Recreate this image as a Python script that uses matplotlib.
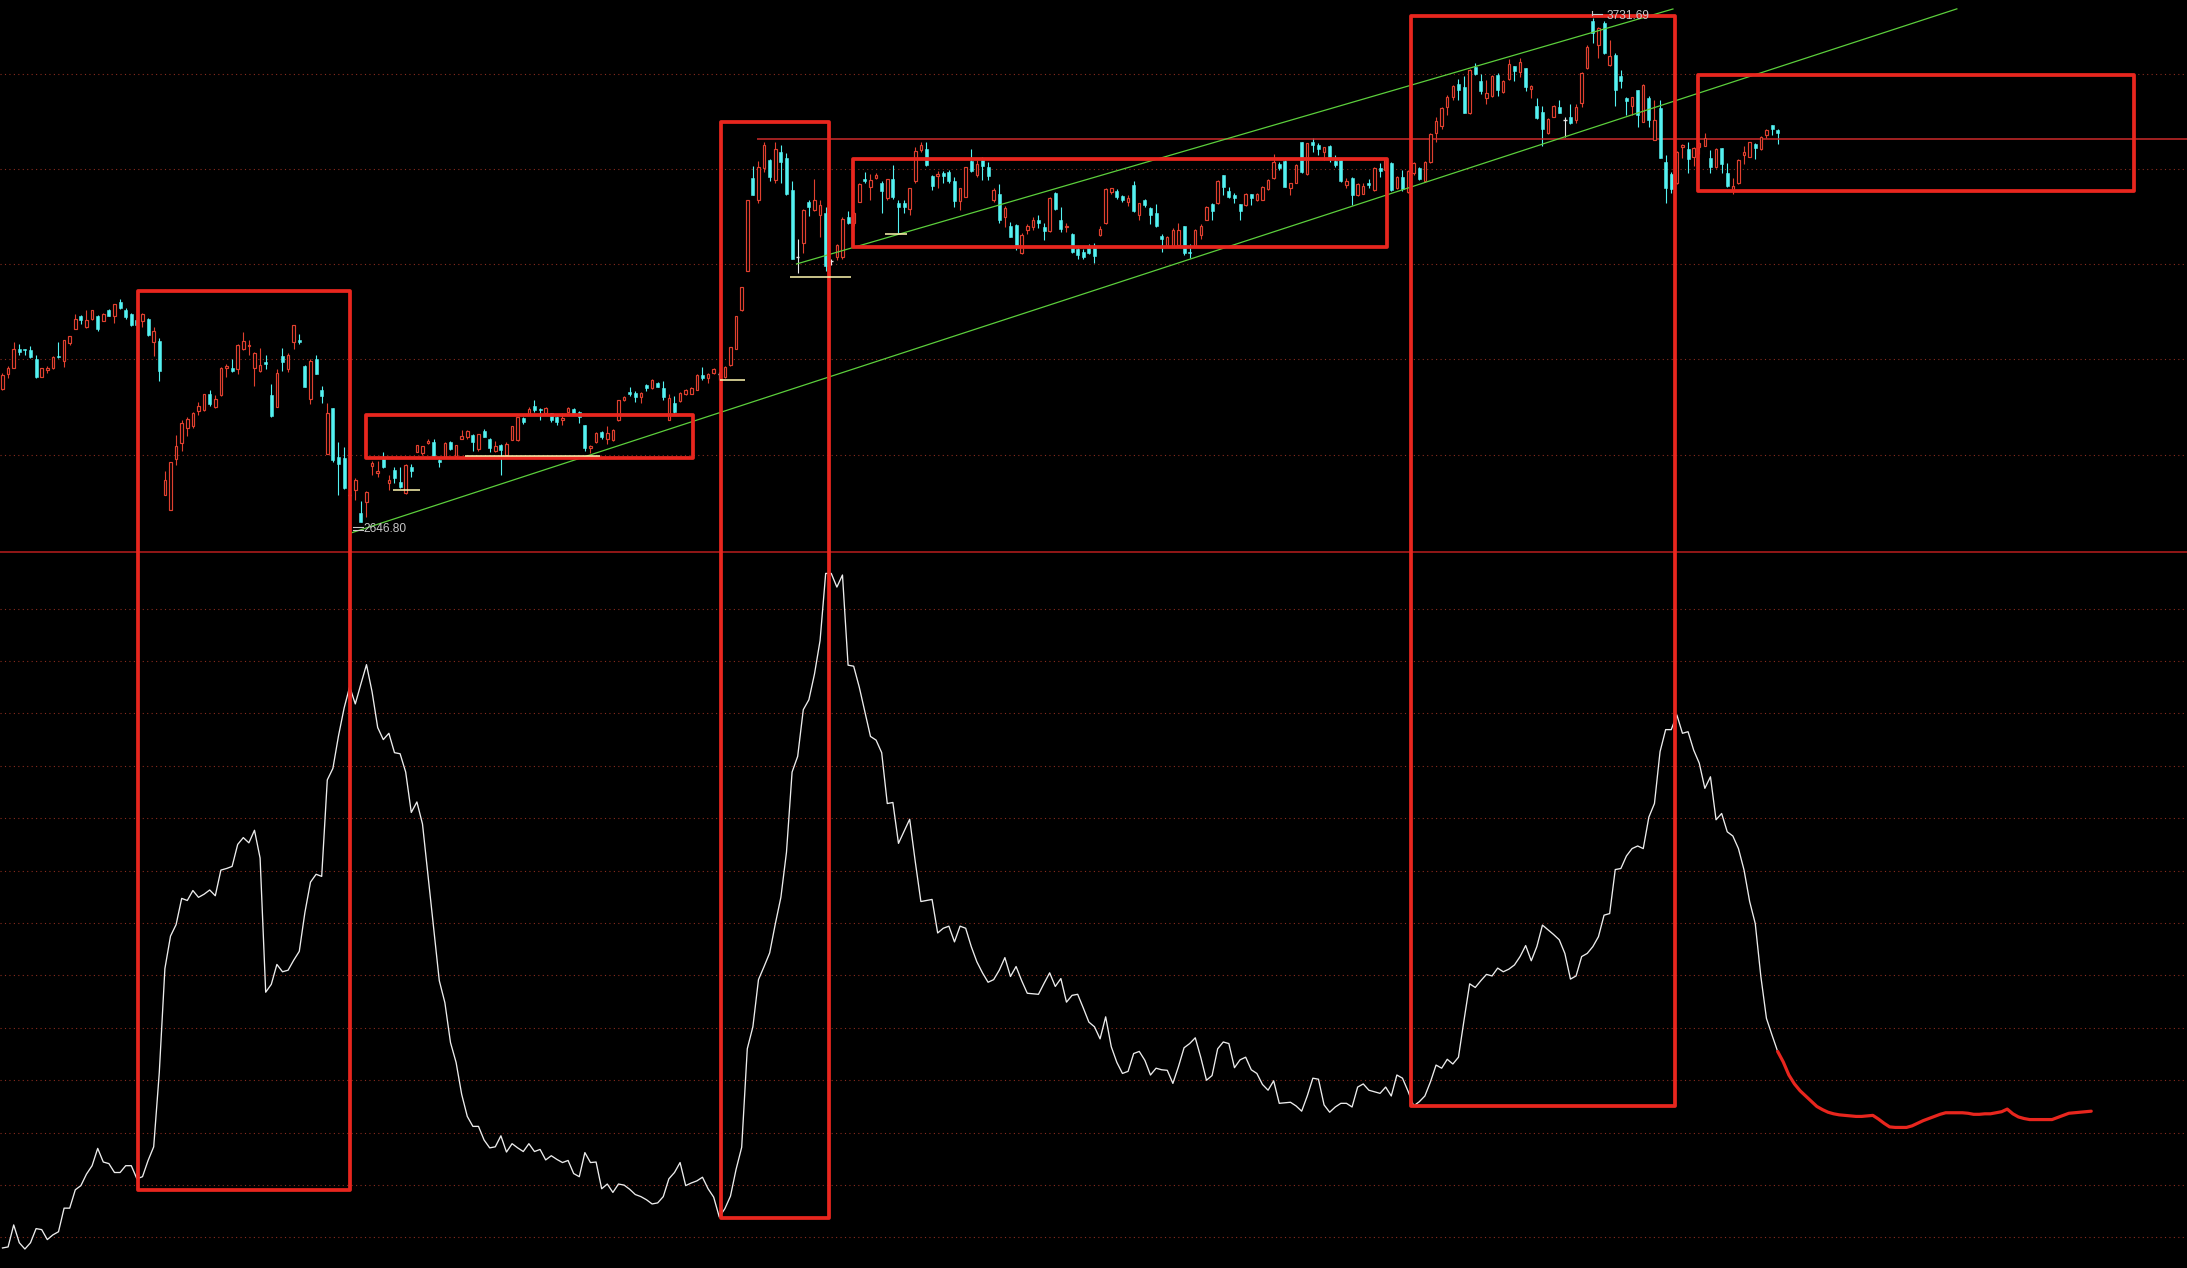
import numpy as np
import matplotlib
matplotlib.use("Agg")
import matplotlib.pyplot as plt
from matplotlib.patches import Rectangle

# ---------------- data ----------------
OPEN = [2932, 2965, 2979, 3020, 3017, 3017, 2997, 2959, 2974, 2977,
        3003, 2994, 3031, 3063, 3089, 3067, 3083, 3090, 3080, 3102,
        3089, 3121, 3103, 3094, 3081, 3080, 3083, 3035, 3037, 2704,
        2673, 2782, 2817, 2849, 2852, 2885, 2887, 2922, 2893, 2920,
        2978, 2977, 2976, 3018, 3025, 2977, 2972, 2990, 2920, 2893,
        3004, 2975, 3033, 3038, 2983, 2911, 2997, 2931, 2793, 2891,
        2787, 2783, 2705, 2715, 2665, 2689, 2767, 2751, 2781, 2731,
        2758, 2733, 2708, 2765, 2798, 2794, 2816, 2819, 2780, 2787,
        2819, 2789, 2825, 2829, 2834, 2803, 2843, 2826, 2799, 2812,
        2791, 2823, 2822, 2870, 2879, 2896, 2889, 2880, 2880, 2872,
        2865, 2884, 2889, 2884, 2855, 2805, 2819, 2841, 2826, 2823,
        2865, 2909, 2927, 2925, 2915, 2941, 2934, 2945, 2934, 2867,
        2903, 2906, 2922, 2923, 2931, 2963, 2956, 2968, 2965, 2959,
        2984, 3020, 3102, 3188, 3387, 3340, 3410, 3426, 3383, 3444,
        3430, 3362, 3218, 3247, 3336, 3319, 3308, 3313, 3208, 3218,
        3218, 3303, 3290, 3336, 3385, 3369, 3387, 3377, 3344, 3385,
        3333, 3333, 3320, 3380, 3448, 3451, 3392, 3392, 3399, 3401,
        3380, 3337, 3347, 3425, 3394, 3426, 3412, 3340, 3354, 3304,
        3284, 3286, 3225, 3276, 3281, 3297, 3281, 3274, 3356, 3296,
        3281, 3267, 3234, 3229, 3236, 3238, 3265, 3290, 3358, 3360,
        3349, 3336, 3372, 3308, 3339, 3322, 3313, 3262, 3241, 3239,
        3243, 3283, 3229, 3241, 3265, 3297, 3331, 3333, 3394, 3360,
        3351, 3331, 3329, 3353, 3340, 3340, 3363, 3387, 3418, 3425,
        3365, 3377, 3466, 3396, 3466, 3459, 3444, 3456, 3425, 3426,
        3372, 3387, 3351, 3354, 3377, 3362, 3408, 3405, 3419, 3365,
        3390, 3358, 3398, 3408, 3380, 3421, 3484, 3500, 3540, 3563,
        3590, 3583, 3527, 3627, 3597, 3560, 3564, 3609, 3573, 3600,
        3629, 3617, 3624, 3579, 3543, 3530, 3484, 3520, 3540, 3512,
        3518, 3512, 3550, 3624, 3725, 3674, 3721, 3631, 3652, 3607,
        3559, 3543, 3577, 3509, 3559, 3469, 3538, 3423, 3396, 3376,
        3455, 3449, 3432, 3455, 3456, 3430, 3412, 3453, 3399, 3362,
        3377, 3437, 3432, 3461, 3449, 3480, 3502, 3492]

HIGH = [2967, 2982, 3035, 3030, 3020, 3025, 3006, 2979, 2982, 3004,
        3035, 3038, 3047, 3094, 3092, 3104, 3104, 3092, 3096, 3106,
        3117, 3127, 3107, 3096, 3090, 3096, 3085, 3067, 3042, 2755,
        2776, 2834, 2867, 2873, 2884, 2905, 2923, 2931, 2920, 2981,
        2987, 2997, 3030, 3056, 3038, 3013, 3022, 3006, 2943, 2976,
        3022, 3010, 3071, 3051, 2984, 2997, 3006, 2939, 2902, 2891,
        2819, 2807, 2708, 2740, 2692, 2712, 2778, 2778, 2796, 2747,
        2764, 2764, 2771, 2771, 2813, 2810, 2824, 2824, 2787, 2818,
        2821, 2813, 2844, 2844, 2836, 2836, 2846, 2827, 2821, 2814,
        2819, 2854, 2873, 2873, 2895, 2908, 2891, 2893, 2882, 2875,
        2880, 2893, 2892, 2886, 2855, 2812, 2839, 2843, 2852, 2846,
        2909, 2918, 2936, 2929, 2926, 2944, 2955, 2948, 2949, 2922,
        2918, 2927, 2933, 2936, 2965, 2981, 2967, 2977, 2970, 2983,
        3024, 3091, 3153, 3340, 3413, 3425, 3464, 3428, 3466, 3459,
        3441, 3380, 3255, 3320, 3341, 3385, 3341, 3324, 3212, 3245,
        3303, 3317, 3315, 3376, 3401, 3396, 3398, 3382, 3386, 3416,
        3340, 3341, 3367, 3455, 3464, 3464, 3394, 3403, 3403, 3405,
        3389, 3367, 3412, 3449, 3426, 3432, 3423, 3365, 3375, 3327,
        3293, 3288, 3268, 3288, 3304, 3308, 3291, 3346, 3358, 3324,
        3291, 3268, 3241, 3234, 3245, 3247, 3283, 3365, 3367, 3363,
        3351, 3351, 3380, 3334, 3342, 3324, 3331, 3267, 3262, 3279,
        3291, 3284, 3245, 3277, 3288, 3327, 3333, 3383, 3394, 3369,
        3356, 3332, 3355, 3354, 3355, 3370, 3385, 3439, 3423, 3426,
        3377, 3418, 3466, 3463, 3473, 3462, 3455, 3459, 3437, 3428,
        3387, 3389, 3376, 3376, 3385, 3412, 3420, 3430, 3422, 3391,
        3405, 3405, 3422, 3411, 3425, 3484, 3518, 3540, 3566, 3588,
        3600, 3607, 3622, 3636, 3612, 3598, 3610, 3614, 3599, 3645,
        3629, 3647, 3624, 3588, 3559, 3543, 3516, 3545, 3556, 3520,
        3547, 3548, 3617, 3674, 3731.69, 3712, 3725, 3685, 3657, 3621,
        3563, 3563, 3577, 3589, 3564, 3555, 3556, 3437, 3400, 3446,
        3461, 3466, 3455, 3465, 3485, 3448, 3452, 3453, 3420, 3387,
        3428, 3456, 3466, 3462, 3477, 3494, 3502, 3494]

LOW = [2931, 2956, 2977, 3006, 3005, 2999, 2956, 2958, 2968, 2975,
       2999, 2981, 3028, 3062, 3073, 3065, 3081, 3058, 3079, 3089,
       3074, 3105, 3083, 3069, 3067, 3067, 3048, 3004, 2951, 2704,
       2673, 2769, 2800, 2832, 2849, 2877, 2886, 2897, 2892, 2918,
       2958, 2969, 2966, 3017, 3005, 2940, 2970, 2976, 2873, 2893,
       2972, 2970, 3018, 3030, 2936, 2900, 2965, 2902, 2793, 2776,
       2704, 2717, 2694, 2694, 2646.8, 2656, 2747, 2744, 2762, 2715,
       2731, 2719, 2707, 2744, 2796, 2791, 2814, 2787, 2765, 2786,
       2801, 2788, 2824, 2826, 2800, 2800, 2829, 2796, 2796, 2747,
       2790, 2822, 2821, 2857, 2877, 2884, 2865, 2878, 2861, 2856,
       2855, 2882, 2878, 2860, 2800, 2794, 2817, 2824, 2814, 2821,
       2863, 2907, 2918, 2905, 2903, 2929, 2932, 2936, 2908, 2867,
       2882, 2904, 2920, 2921, 2930, 2952, 2946, 2966, 2952, 2957,
       2982, 3019, 3100, 3188, 3350, 3334, 3401, 3380, 3376, 3377,
       3351, 3212, 3183, 3225, 3306, 3317, 3261, 3188, 3200, 3211,
       3212, 3288, 3285, 3335, 3376, 3340, 3385, 3313, 3340, 3342,
       3268, 3311, 3308, 3376, 3444, 3413, 3362, 3365, 3376, 3376,
       3326, 3318, 3346, 3401, 3390, 3383, 3383, 3336, 3291, 3281,
       3260, 3232, 3224, 3267, 3275, 3279, 3254, 3272, 3318, 3272,
       3272, 3225, 3212, 3212, 3224, 3204, 3262, 3288, 3353, 3343,
       3336, 3327, 3314, 3297, 3326, 3288, 3281, 3229, 3239, 3239,
       3241, 3222, 3214, 3239, 3257, 3296, 3297, 3331, 3351, 3344,
       3334, 3297, 3327, 3329, 3338, 3339, 3362, 3385, 3405, 3368,
       3351, 3376, 3399, 3394, 3444, 3437, 3426, 3423, 3412, 3378,
       3365, 3329, 3349, 3353, 3365, 3360, 3390, 3403, 3360, 3363,
       3360, 3356, 3395, 3383, 3378, 3419, 3466, 3494, 3523, 3556,
       3556, 3527, 3525, 3609, 3568, 3547, 3562, 3564, 3571, 3599,
       3597, 3606, 3576, 3559, 3514, 3456, 3482, 3518, 3527, 3475,
       3504, 3507, 3541, 3622, 3679, 3647, 3655, 3629, 3543, 3582,
       3523, 3523, 3497, 3508, 3498, 3469, 3430, 3334, 3355, 3374,
       3430, 3399, 3413, 3440, 3456, 3398, 3410, 3398, 3369, 3353,
       3375, 3418, 3432, 3428, 3447, 3473, 3480, 3461]

CLOSE = [2963, 2979, 3018, 3013, 3016, 3001, 2958, 2977, 2979, 3002,
         3002, 3038, 3046, 3083, 3081, 3081, 3102, 3063, 3094, 3091,
         3115, 3107, 3087, 3071, 3071, 3094, 3050, 3058, 2972, 2737,
         2775, 2810, 2860, 2868, 2882, 2897, 2922, 2900, 2911, 2979,
         2982, 2972, 3028, 3036, 3028, 3011, 2984, 2987, 2875, 2967,
         2990, 3007, 3071, 3033, 2938, 2994, 2965, 2918, 2880, 2780,
         2771, 2719, 2705, 2737, 2647, 2710, 2774, 2757, 2764, 2737,
         2740, 2722, 2770, 2755, 2812, 2809, 2821, 2788, 2776, 2817,
         2803, 2812, 2832, 2843, 2819, 2836, 2830, 2805, 2809, 2801,
         2814, 2853, 2872, 2862, 2889, 2888, 2887, 2891, 2865, 2861,
         2870, 2891, 2880, 2872, 2805, 2810, 2837, 2830, 2837, 2844,
         2908, 2916, 2922, 2915, 2925, 2934, 2952, 2938, 2915, 2913,
         2884, 2925, 2931, 2934, 2963, 2956, 2966, 2975, 2965, 2981,
         3023, 3090, 3152, 3339, 3351, 3412, 3459, 3390, 3451, 3423,
         3354, 3212, 3218, 3319, 3326, 3339, 3329, 3198, 3208, 3243,
         3299, 3290, 3312, 3375, 3380, 3383, 3394, 3360, 3385, 3346,
         3324, 3324, 3365, 3446, 3459, 3416, 3370, 3396, 3392, 3380,
         3337, 3365, 3411, 3403, 3418, 3413, 3392, 3362, 3298, 3322,
         3260, 3241, 3265, 3284, 3298, 3291, 3274, 3344, 3320, 3277,
         3284, 3229, 3222, 3218, 3225, 3219, 3277, 3363, 3365, 3346,
         3339, 3344, 3316, 3333, 3329, 3308, 3283, 3255, 3260, 3275,
         3275, 3225, 3225, 3275, 3284, 3324, 3317, 3382, 3369, 3347,
         3344, 3317, 3353, 3344, 3353, 3369, 3383, 3423, 3408, 3369,
         3376, 3416, 3401, 3462, 3459, 3451, 3454, 3433, 3415, 3380,
         3380, 3351, 3375, 3370, 3372, 3410, 3403, 3428, 3362, 3389,
         3363, 3403, 3419, 3385, 3423, 3482, 3511, 3538, 3561, 3586,
         3578, 3528, 3620, 3612, 3576, 3571, 3607, 3577, 3597, 3633,
         3619, 3638, 3583, 3586, 3516, 3494, 3514, 3543, 3528, 3512,
         3507, 3541, 3614, 3669, 3699, 3710, 3656, 3650, 3577, 3597,
         3553, 3563, 3523, 3588, 3512, 3512, 3430, 3365, 3363, 3444,
         3459, 3428, 3453, 3462, 3473, 3412, 3451, 3418, 3370, 3370,
         3426, 3444, 3464, 3452, 3475, 3492, 3494, 3484]

# lower-panel indicator (one value per candle)
LINE = [8.0, 8.2, 12.4, 9.0, 7.8, 9.0, 11.7, 11.5, 9.6, 10.5,
        11.1, 15.6, 15.6, 19.1, 19.9, 22.1, 23.7, 27.0, 24.4, 24.1,
        22.4, 22.4, 23.7, 23.7, 21.2, 21.6, 24.7, 27.3, 41.5, 61.3,
        67.5, 69.7, 74.7, 74.3, 76.2, 74.9, 75.5, 76.3, 75.2, 80.1,
        80.4, 80.8, 85.0, 86.3, 85.3, 87.7, 82.4, 56.8, 58.3, 62.1,
        60.7, 61.0, 62.9, 64.6, 72.0, 77.8, 79.3, 78.9, 97.3, 99.5,
        105.7, 111.0, 115.1, 111.8, 115.6, 119.3, 114.1, 107.3, 105.0, 106.2,
        102.5, 102.3, 98.8, 91.1, 93.1, 88.9, 78.9, 69.0, 59.0, 54.8,
        47.2, 43.4, 37.3, 33.1, 31.2, 31.2, 28.6, 27.1, 27.3, 29.4,
        26.3, 27.9, 27.1, 26.4, 27.9, 26.4, 26.8, 24.8, 25.6, 24.9,
        24.3, 24.7, 22.2, 21.6, 26.2, 24.3, 24.4, 19.3, 20.2, 18.6,
        20.2, 20.0, 19.2, 18.2, 17.8, 17.2, 16.4, 16.6, 17.8, 21.2,
        22.4, 24.3, 19.9, 20.4, 20.8, 21.5, 19.3, 17.7, 13.9, 15.5,
        17.9, 23.0, 27.2, 46.0, 50.2, 59.2, 61.7, 64.3, 69.8, 74.9,
        83.5, 98.8, 101.8, 110.7, 112.6, 117.5, 123.9, 136.7, 136.7, 134.1,
        136.4, 119.2, 119.0, 115.0, 110.3, 105.6, 104.9, 102.5, 92.8, 93.0,
        85.2, 87.5, 89.8, 81.7, 74.1, 74.3, 74.5, 68.1, 69.0, 69.4,
        66.4, 69.4, 69.0, 65.5, 62.6, 60.5, 58.7, 59.2, 61.0, 63.4,
        59.8, 61.7, 59.0, 56.6, 56.5, 56.4, 58.5, 60.5, 57.9, 59.4,
        54.9, 56.2, 56.4, 53.8, 51.1, 50.2, 47.9, 52.1, 46.4, 43.4,
        41.3, 41.7, 45.1, 45.5, 43.8, 41.0, 42.3, 42.0, 41.9, 39.4,
        42.6, 46.2, 47.0, 48.1, 44.3, 40.0, 40.9, 46.0, 47.3, 47.0,
        42.4, 43.9, 44.4, 42.0, 41.3, 39.2, 38.1, 39.9, 35.6, 35.7,
        35.8, 35.1, 34.1, 37.0, 40.4, 40.2, 35.3, 33.9, 34.9, 35.6,
        35.6, 34.9, 38.7, 39.3, 38.1, 37.8, 37.5, 38.7, 37.0, 41.0,
        40.4, 37.9, 35.1, 35.9, 37.0, 39.7, 42.9, 42.3, 44.0, 43.1,
        44.4, 51.5, 58.4, 57.7, 59.0, 60.2, 59.9, 61.4, 60.7, 61.2,
        62.0, 63.6, 65.7, 62.8, 65.5, 69.6, 68.7, 67.8, 66.8, 64.2,
        59.3, 59.9, 63.6, 64.2, 65.5, 67.4, 71.5, 71.8, 80.2, 80.4,
        82.8, 84.2, 84.7, 84.2, 90.2, 92.8, 102.7, 106.9, 106.9, 109.7,
        106.2, 106.5, 103.0, 100.5, 95.7, 97.9, 89.7, 90.9, 87.4, 86.6,
        84.2, 80.1, 74.1, 69.9, 59.8, 51.8, 48.6, 45.5]

# projected continuation (drawn in red), starts at the last candle
LINE_EXT = [45.5, 43.5, 41.0, 39.3, 38.0, 37.0, 36.0, 35.0, 34.4, 33.9,
            33.6, 33.4, 33.3, 33.2, 33.1, 33.1, 33.2, 33.3, 32.6, 31.8,
            31.1, 31.0, 31.0, 31.0, 31.3, 31.8, 32.3, 32.7, 33.1, 33.5,
            33.8, 33.8, 33.8, 33.8, 33.7, 33.5, 33.5, 33.6, 33.6, 33.8,
            34.0, 34.5, 33.6, 33.0, 32.7, 32.5, 32.5, 32.5, 32.5, 32.5,
            32.9, 33.3, 33.7, 33.8, 33.9, 34.0, 34.1]

LOW_LABEL = "2646.80"
HIGH_LABEL = "3731.69"
RESIST_PRICE = 3471.5

# annotation boxes: (start idx, end idx, top price, bottom price)
BOXES_TOP = [(65.0, 123.25, 2876.7, 2783.4),
             (151.8, 247.2, 3429.1, 3239.2),
             (302.8, 380.6, 3608.8, 3359.5)]
# tall boxes: (start idx, end idx, top price, bottom indicator value)
BOXES_TALL = [(24.2, 62.05, 3144.6, 19.06),
              (128.25, 147.6, 3508.2, 13.78),
              (251.6, 298.7, 3736.6, 35.09)]
TRENDLINES = [((62.4, 2623.1), (349.0, 3752.0)),
              ((141.8, 3202.2), (298.3, 3751.7))]
SUPPORT_MARKS = [(69.8, 74.6, 2715.0), (82.6, 106.7, 2787.7),
                 (140.6, 151.5, 3173.5), (157.6, 161.6, 3266.8),
                 (128.1, 132.6, 2951.5)]
PRICE_GRID = [2790.5, 2997.4, 3202.2, 3406.9, 3611.6]
IND_GRID = [10, 20, 30, 40, 50, 60, 70, 80, 90, 100, 110, 120, 130]

# ---------------- styling ----------------
BG = "black"
RED = "#e0402f"
CYAN = "#54f2f2"
BOX = "#e8261e"
GRID_C = "#8a2c1f"
GREEN = "#5ccf3c"
YEL = "#fff7b0"
TXT = "#c8c8c8"

W, H = 2187, 1268
SPLIT = 551
fig = plt.figure(figsize=(W / 100, H / 100), dpi=100, facecolor=BG)
axb = fig.add_axes([0, 0, 1, 1 - SPLIT / H])
ax = fig.add_axes([0, 1 - SPLIT / H, 1, SPLIT / H])
ax.set_zorder(3)
for a in (ax, axb):
    a.set_facecolor("none")
    a.set_xlim(-0.446, 390.1)
    a.set_xticks([])
    a.set_yticks([])
    for s in a.spines.values():
        s.set_visible(False)
ax.set_ylim(2583.6, 3771.1)
axb.set_ylim(4.18, 140.98)

dots = (0, (1, 3))
for p in PRICE_GRID:
    ax.axhline(p, color=GRID_C, lw=0.8, ls=dots, zorder=0)
for v in IND_GRID:
    axb.axhline(v, color=GRID_C, lw=0.8, ls=dots, zorder=0)
axb.axhline(140.75, color="#b81e1e", lw=1.1, zorder=1, clip_on=False)

# ---------------- candles ----------------
o = np.array(OPEN, float)
h = np.array(HIGH, float)
l = np.array(LOW, float)
c = np.array(CLOSE, float)
x = np.arange(len(o))
up = c > o
dn = c < o
fl = c == o
MINH = 2.0

wick_col = np.where(up, RED, np.where(dn, CYAN, "#e6e6e6"))
ax.vlines(x, l, h, colors=list(wick_col), lw=0.8, zorder=2)
ax.bar(x[up], np.maximum(c[up] - o[up], MINH), bottom=o[up], width=0.44,
       facecolor=BG, edgecolor=RED, linewidth=0.85, zorder=3)
ax.bar(x[dn], np.maximum(o[dn] - c[dn], MINH), bottom=c[dn], width=0.52,
       facecolor=CYAN, edgecolor=CYAN, linewidth=0.4, zorder=3)
ax.hlines(o[fl], x[fl] - 0.3, x[fl] + 0.3, colors="#e6e6e6", lw=1.0, zorder=3)

# resistance line
ax.hlines(RESIST_PRICE, 134.7, 390.1, colors="#cc2b2b", lw=1.1, zorder=2)

# trend lines
for (x0, p0), (x1, p1) in TRENDLINES:
    ax.plot([x0, x1], [p0, p1], color=GREEN, lw=0.9, zorder=4)

# boxes
for i0, i1, pt, pb in BOXES_TOP:
    ax.add_patch(Rectangle((i0, pb), i1 - i0, pt - pb, fill=False, ec=BOX,
                           lw=2.7, joinstyle="round", zorder=5))
for i0, i1, pt, vb in BOXES_TALL:
    disp = axb.transData.transform((i0, vb))
    pb = ax.transData.inverted().transform(disp)[1]
    ax.add_patch(Rectangle((i0, pb), i1 - i0, pt - pb, fill=False, ec=BOX,
                           lw=2.7, joinstyle="round", zorder=5, clip_on=False))

# support marks
for i0, i1, p in SUPPORT_MARKS:
    ax.hlines(p, i0, i1, colors=YEL, lw=1.1, zorder=6)

# extreme labels
lf = dict(color=TXT, fontsize=8.6, family=["Liberation Sans", "DejaVu Sans"],
          va="center", ha="left", zorder=7)
ax.plot([62.6, 64.3], [2634.5, 2634.5], color=TXT, lw=0.8, zorder=7)
ax.plot([62.6, 64.3], [2629.0, 2629.0], color=TXT, lw=0.8, zorder=7)
ax.text(64.5, 2631.0, LOW_LABEL, **lf)
ax.plot([283.9, 283.9], [3738.5, 3747.5], color=TXT, lw=0.8, zorder=7)
ax.plot([283.9, 285.6], [3741.5, 3741.5], color=TXT, lw=0.8, zorder=7)
ax.text(286.5, 3736.4, HIGH_LABEL, **lf)

# ---------------- indicator line ----------------
axb.plot(np.arange(len(LINE)), LINE, color="#ececec", lw=0.95, zorder=3)
xe = np.arange(len(LINE) - 1, len(LINE) - 1 + len(LINE_EXT))
axb.plot(xe, LINE_EXT, color=BOX, lw=2.3, solid_capstyle="round", zorder=3)

fig.savefig("out.png", dpi=100, facecolor=BG)
